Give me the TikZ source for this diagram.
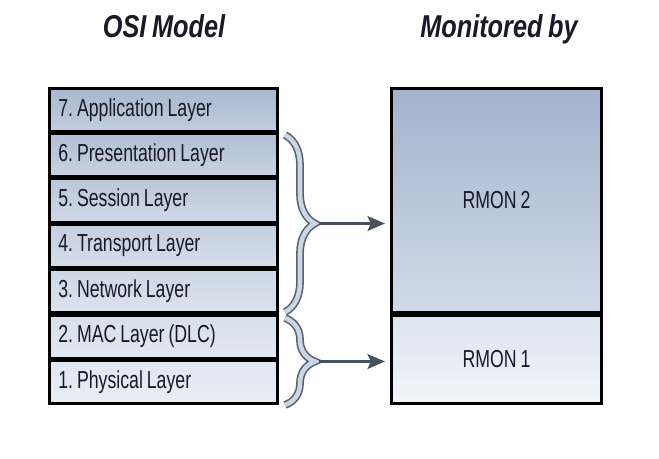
\documentclass[tikz,border=0pt]{standalone}
\usepackage{fontspec}
\setmainfont[FakeStretch=0.72, WordSpace=0.8]{Liberation Sans}
\newfontfamily\headfont[FakeStretch=0.8, WordSpace=0.8]{Liberation Sans}
\usetikzlibrary{positioning,decorations.pathreplacing,arrows.meta}
\definecolor{ositop}{RGB}{168,183,206}
\definecolor{osibot}{RGB}{230,236,245}
\definecolor{inktext}{RGB}{25,25,40}
\definecolor{bracegray}{RGB}{88,98,110}
\definecolor{bracefill}{RGB}{202,214,229}
\definecolor{arrowgray}{RGB}{72,82,94}
\def\lw{1.5pt}

\tikzset{
  layer/.style={draw=black, line width=\lw, rectangle,
    top color=osibot!#1!ositop, bottom color=osibot!#1!ositop!70!white,
    text width=4.21cm, align=flush left, inner xsep=0.18cm, inner ysep=0pt,
    minimum height=0.855cm, text=inktext, font=\fontsize{14}{16}\selectfont\frenchspacing},
  rmonbox/.style={draw=black, line width=\lw, rectangle,
    minimum width=4.207cm, text=inktext, font=\fontsize{14}{16}\selectfont},
  heading/.style={anchor=base, text=inktext,
    font=\headfont\fontsize{18}{21}\selectfont\bfseries\itshape},
  curly/.style={decorate, decoration={brace, amplitude=0.6cm},
    draw=bracegray, line width=0.9pt, double=bracefill, double distance=2.6pt},
  pointer/.style={draw=arrowgray, line width=1.4pt,
    -{Stealth[length=10pt, width=8.5pt, inset=2pt]}, shorten >=0.1cm}
}

\begin{document}
\begin{tikzpicture}[x=0.02cm, y=-0.02cm]
            \useasboundingbox (0,0) rectangle (659,458);

            \node[heading] (osi) at (164,37) {OSI Model};
            \node[heading] (mon) at (499,37) {Monitored by};

            \node[layer=0, anchor=north west] (l7) at (48,87) {7. Application Layer};
            \node[layer=15, below=0pt of l7] (l6) {6. Presentation Layer};
            \node[layer=30, below=0pt of l6] (l5) {5. Session Layer};
            \node[layer=45, below=0pt of l5] (l4) {4. Transport Layer};
            \node[layer=60, below=0pt of l4] (l3) {3. Network Layer};
            \node[layer=75, below=0pt of l3] (l2) {2. MAC Layer (DLC)};
            \node[layer=90, below=0pt of l2] (l1) {1. Physical Layer};

            \node[rmonbox, anchor=north west, minimum height=4.487cm,
                  top color={rgb,255:red,163;green,179;blue,204},
                  bottom color={rgb,255:red,208;green,218;blue,233}] (rmon2) at (390,87) {RMON 2};
            \node[rmonbox, below=0pt of rmon2, minimum height=1.763cm,
                  top color={rgb,255:red,220;green,228;blue,240},
                  bottom color={rgb,255:red,242;green,245;blue,250}] (rmon1) {RMON 1};

            \coordinate (upTop) at (285,135);
            \coordinate (upBot) at (285,312);
            \coordinate (upTip) at (319,223.5);
            \coordinate (lowTop) at (285,318);
            \coordinate (lowBot) at (285,405);
            \coordinate (lowTip) at (319,361.5);

            \draw[curly] (upTop) -- (upBot);
            \draw[curly] (lowTop) -- (lowBot);

            \draw[pointer] (upTip) -- (rmon2.west |- upTip);
            \draw[pointer] (lowTip) -- (rmon1.west |- lowTip);

\end{tikzpicture}
\end{document}
